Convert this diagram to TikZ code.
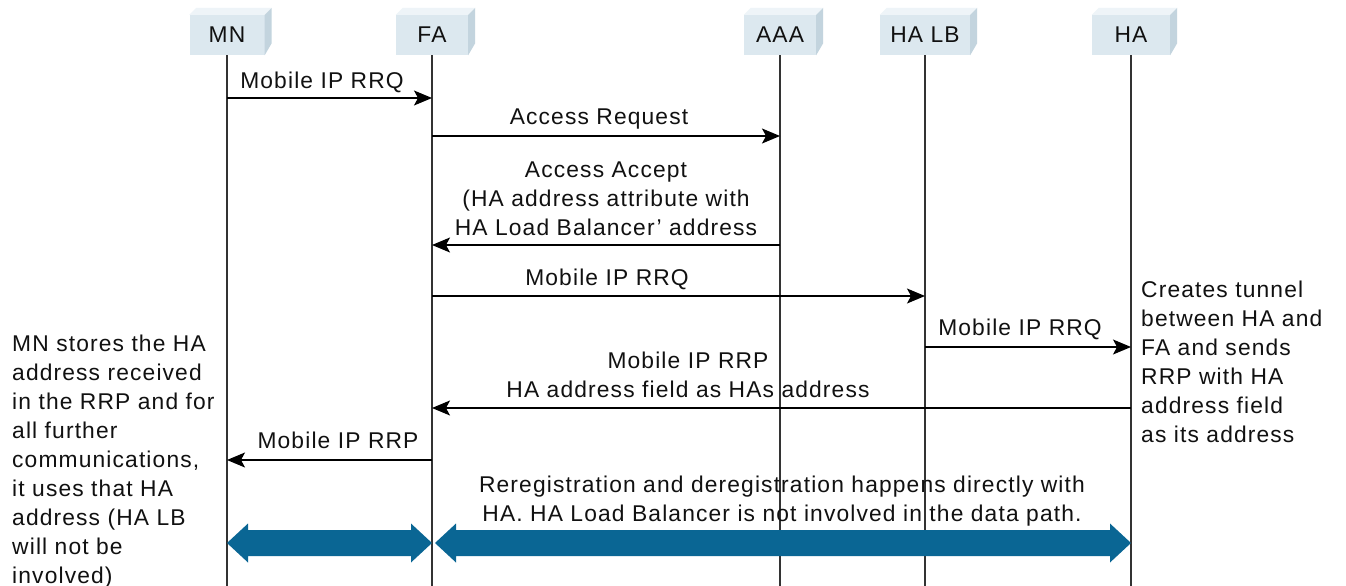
\documentclass[tikz,border=0pt]{standalone}
\usepackage{fontspec}
\setmainfont{Liberation Sans}[LetterSpace=5]
\usetikzlibrary{arrows.meta,calc}
\definecolor{boxfront}{HTML}{DCE8EF}
\definecolor{boxtop}{HTML}{EEF4F8}
\definecolor{boxside}{HTML}{C3D4DE}
\definecolor{lifec}{HTML}{333333}
\definecolor{txt}{HTML}{111111}
\definecolor{bigblue}{HTML}{0A6694}
\tikzset{
  entity/.style={fill=boxfront, minimum height=40pt, inner sep=0pt, text=txt},
  life/.style={draw=lifec, line width=1.3pt},
  msg/.style={draw=black, line width=1.3pt, -{Stealth[length=18pt,width=15pt,inset=4pt]}},
  lbl/.style={anchor=north, inner sep=0pt, align=center, text=txt},
  note/.style={anchor=north west, inner sep=0pt, align=left, text=txt},
  big/.style={fill=bigblue}
}
\newcommand{\boxdeco}[1]{%
  \fill[boxtop] (#1.north west) -- ++(7,-7) -- ($(#1.north east)+(7,-7)$) -- (#1.north east) -- cycle;
  \fill[boxside] (#1.north east) -- ++(7,-7) -- ($(#1.south east)+(7,-12)$) -- (#1.south east) -- cycle;}
\begin{document}
\begin{tikzpicture}[x=1pt,y=-1pt,font=\fontsize{22.8}{29}\selectfont]
\useasboundingbox (0,0) rectangle (1346,586);
\fill[white] (0,0) rectangle (1346,586);
% entities
\node[entity, minimum width=75pt] (mn) at (227,35) {MN};
\node[entity, minimum width=72pt] (fa) at (432,35) {FA};
\node[entity, minimum width=72pt] (aaa) at (780,35) {AAA};
\node[entity, minimum width=90pt] (halb) at (925,35) {HA LB};
\node[entity, minimum width=78pt] (ha) at (1131,35) {HA};
\boxdeco{mn}\boxdeco{fa}\boxdeco{aaa}\boxdeco{halb}\boxdeco{ha}
% lifeline ends
\coordinate (mnE) at (227,586);
\coordinate (faE) at (432,586);
\coordinate (aaaE) at (780,586);
\coordinate (halbE) at (925,586);
\coordinate (haE) at (1131,586);
\draw[life] (mn.south) -- (mnE);
\draw[life] (fa.south) -- (faE);
\draw[life] (aaa.south) -- (aaaE);
\draw[life] (halb.south) -- (halbE);
\draw[life] (ha.south) -- (haE);
% messages
\draw[msg] (mn.south |- 0,98) -- (fa.south |- 0,98);
\node[lbl] (l1) at (322,71.5) {Mobile IP RRQ};
\draw[msg] (fa.south |- 0,136) -- (aaa.south |- 0,136);
\node[lbl] (l2) at (599,108.5) {Access Request};
\draw[msg] (aaa.south |- 0,245) -- (fa.south |- 0,245);
\node[lbl] (l3) at (606,161.5) {Access Accept\\(HA address attribute with\\HA Load Balancer’ address};
\draw[msg] (fa.south |- 0,296) -- (halb.south |- 0,296);
\node[lbl] (l4) at (607,268.5) {Mobile IP RRQ};
\draw[msg] (halb.south |- 0,347) -- (ha.south |- 0,347);
\node[lbl] (l5) at (1020,318.5) {Mobile IP RRQ};
\draw[msg] (ha.south |- 0,408) -- (fa.south |- 0,408);
\node[lbl] (l6) at (688,351.5) {Mobile IP RRP\\HA address field as HAs address};
\draw[msg] (fa.south |- 0,460) -- (mn.south |- 0,460);
\node[lbl] (l7) at (338,431.5) {Mobile IP RRP};
\node[lbl] (l8) at (782,475.5) {Reregistration and deregistration happens directly with\\HA. HA Load Balancer is not involved in the data path.};
% side notes
\node[note] (n1) at (12,334.5) {MN stores the HA\\address received\\in the RRP and for\\all further\\communications,\\it uses that HA\\address (HA LB\\will not be\\involved)};
\node[note] (n2) at (1141,280.5) {Creates tunnel\\between HA and\\FA and sends\\RRP with HA\\address field\\as its address};
% big double arrows
\coordinate (b1l) at (mn.south |- 0,543);
\coordinate (b1r) at (fa.south |- 0,543);
\coordinate (b2l) at ($(fa.south |- 0,543)+(3,0)$);
\coordinate (b2r) at (ha.south |- 0,543);
\fill[big] (b1l) -- ++(21,-19.5) -- ++(0,6.5) -- ($(b1r)+(-21,-13)$) -- ++(0,-6.5) -- (b1r) -- ++(-21,19.5) -- ++(0,-6.5) -- ($(b1l)+(21,13)$) -- ++(0,6.5) -- cycle;
\fill[big] (b2l) -- ++(21,-19.5) -- ++(0,6.5) -- ($(b2r)+(-21,-13)$) -- ++(0,-6.5) -- (b2r) -- ++(-21,19.5) -- ++(0,-6.5) -- ($(b2l)+(21,13)$) -- ++(0,6.5) -- cycle;
\end{tikzpicture}
\end{document}
